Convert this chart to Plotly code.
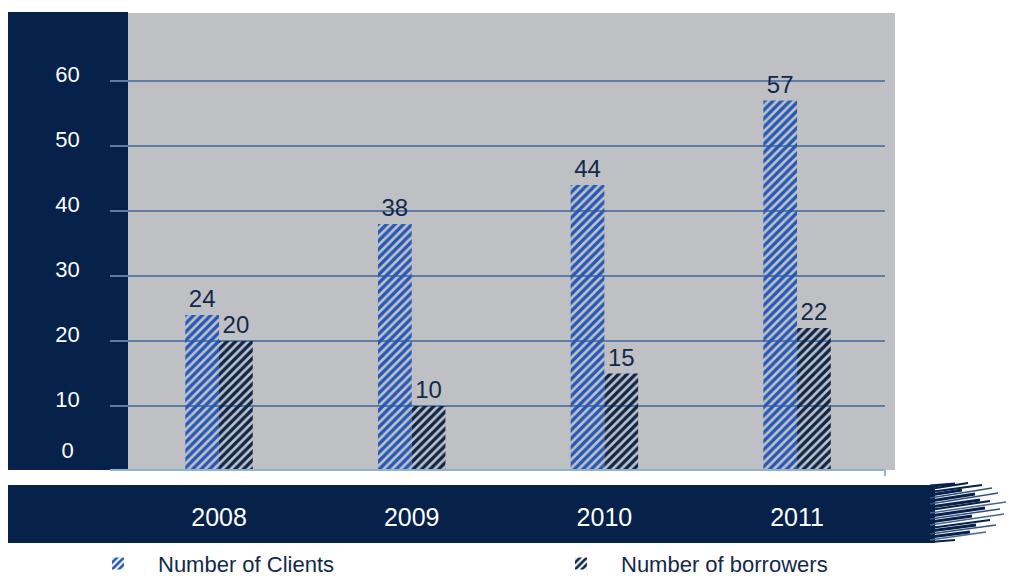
import plotly.graph_objects as go

# Chart data
years = ["2008", "2009", "2010", "2011"]
clients = [24, 38, 44, 57]
borrowers = [20, 10, 15, 22]
y_ticks = [10, 20, 30, 40, 50, 60]
y_tick_text = ["10", "20", "30", "40", "50", "60"]

W, H = 1009, 580
NAVY = "#06214a"
GRAY = "#bfc0c4"
BLUE = "#2458b8"
DARK = "#0d2549"
TEXT = "#13294b"
FONT = "Liberation Sans, Arial"


def px_x(p):
    return p / W


def px_y(p):
    return 1 - p / H


def hatch(color):
    return dict(color="rgba(0,0,0,0)", line=dict(width=0),
                pattern=dict(shape="/", fgcolor=color, bgcolor="rgba(0,0,0,0)",
                             fgopacity=1, size=6, solidity=0.55,
                             fillmode="overlay"))


fig = go.Figure()
fig.add_trace(go.Bar(
    x=years, y=clients, name="Number of Clients", marker=hatch(BLUE),
    text=[str(v) for v in clients], textposition="outside",
    textfont=dict(size=24, color=TEXT, family=FONT), cliponaxis=False,
))
fig.add_trace(go.Bar(
    x=years, y=borrowers, name="Number of borrowers", marker=hatch(DARK),
    text=[str(v) for v in borrowers], textposition="outside",
    textfont=dict(size=24, color=TEXT, family=FONT), cliponaxis=False,
))

# "0" label lives on its own overlay axis so it can sit higher than the rest
fig.add_trace(go.Scatter(x=years, y=[None] * 4, yaxis="y2", showlegend=False,
                         hoverinfo="skip"))

shapes = []
# navy panel behind the y labels
shapes.append(dict(type="rect", xref="paper", yref="paper", layer="below",
                   x0=px_x(8), x1=px_x(128), y0=px_y(470), y1=px_y(12),
                   fillcolor=NAVY, line=dict(width=0)))
# gray plotting panel
shapes.append(dict(type="rect", xref="paper", yref="paper", layer="below",
                   x0=px_x(128), x1=px_x(895), y0=px_y(470), y1=px_y(13),
                   fillcolor=GRAY, line=dict(width=0)))
# baseline and end tick
shapes.append(dict(type="line", xref="paper", yref="paper", layer="above",
                   x0=px_x(110), x1=px_x(885), y0=px_y(470), y1=px_y(470),
                   line=dict(color="#93afd2", width=2)))
shapes.append(dict(type="line", xref="paper", yref="paper", layer="above",
                   x0=px_x(885), x1=px_x(885), y0=px_y(470), y1=px_y(476),
                   line=dict(color="#93afd2", width=2)))
# bottom category band
shapes.append(dict(type="rect", xref="paper", yref="paper", layer="below",
                   x0=px_x(8), x1=px_x(935), y0=px_y(543), y1=px_y(485),
                   fillcolor=NAVY, line=dict(width=0)))
# brushed right end of the band: (y start, x start, x end, y end, width, color)
strokes = [
    (486, 930, 955, 484, 3, NAVY), (489, 930, 968, 483, 2, NAVY),
    (492, 930, 982, 485, 2, NAVY), (495, 930, 962, 490, 3, NAVY),
    (498, 930, 992, 488, 1.5, "#33507c"), (501, 930, 975, 494, 3, NAVY),
    (504, 930, 998, 493, 1.5, "#33507c"), (507, 930, 980, 500, 3, NAVY),
    (510, 930, 990, 501, 2, NAVY), (513, 930, 1006, 502, 1.5, "#4a6590"),
    (516, 930, 985, 508, 3, NAVY), (519, 930, 1000, 509, 1.5, "#33507c"),
    (522, 930, 972, 516, 3, NAVY), (525, 930, 1004, 514, 1.5, "#4a6590"),
    (528, 930, 990, 520, 2, NAVY), (531, 930, 976, 525, 3, NAVY),
    (534, 930, 996, 525, 1.5, "#33507c"), (537, 930, 970, 532, 3, NAVY),
    (540, 930, 986, 532, 1.5, "#4a6590"), (542, 930, 955, 540, 2, NAVY),
]
for y0, x0, x1, y1, w, c in strokes:
    shapes.append(dict(type="line", xref="paper", yref="paper", layer="below",
                       x0=px_x(x0), x1=px_x(x1), y0=px_y(y0), y1=px_y(y1),
                       line=dict(color=c, width=w)))
# gridlines, extended into the navy panel
for v in y_ticks:
    shapes.append(dict(type="line", xref="paper", yref="y", layer="below",
                       x0=px_x(110), x1=px_x(885), y0=v, y1=v,
                       line=dict(color="#5c7ca5", width=2)))

y_top, y_bot = 13, 471
y_max = (y_bot - y_top) / 6.5

fig.update_layout(
    width=W, height=H,
    margin=dict(l=0, r=0, t=0, b=0, autoexpand=False),
    paper_bgcolor="white", plot_bgcolor="rgba(0,0,0,0)",
    barmode="group", bargap=0.65, bargroupgap=0.0,
    font=dict(family=FONT, color=TEXT),
    shapes=shapes,
    showlegend=True,
    legend=dict(orientation="h", x=px_x(78), y=-0.008, xanchor="left",
                yanchor="bottom", entrywidth=378, entrywidthmode="pixels",
                itemwidth=70, borderwidth=0,
                font=dict(size=22, color=TEXT, family=FONT),
                bgcolor="rgba(0,0,0,0)"),
    xaxis=dict(domain=[px_x(122.7), px_x(893.4)], showgrid=False,
               showline=False, zeroline=False, ticks="",
               tickfont=dict(size=25, color="white", family=FONT),
               ticklabelstandoff=29, automargin=False, fixedrange=True),
    yaxis=dict(domain=[px_y(y_bot), px_y(y_top)], range=[0, y_max],
               showgrid=False, zeroline=False, showline=False,
               tickvals=y_ticks, ticktext=y_tick_text, ticks="",
               tickfont=dict(size=22, color="white", family=FONT),
               ticklabelstandoff=42, ticklabelshift=-7, automargin=False,
               fixedrange=True),
    yaxis2=dict(domain=[px_y(y_bot), px_y(y_top)], range=[0, y_max],
                overlaying="y", side="left", showgrid=False, zeroline=False,
                showline=False, tickvals=[0], ticktext=["0"], ticks="",
                tickfont=dict(size=22, color="white", family=FONT),
                ticklabelstandoff=48, ticklabelshift=-21, automargin=False,
                fixedrange=True),
)

fig.write_html("out.html")
